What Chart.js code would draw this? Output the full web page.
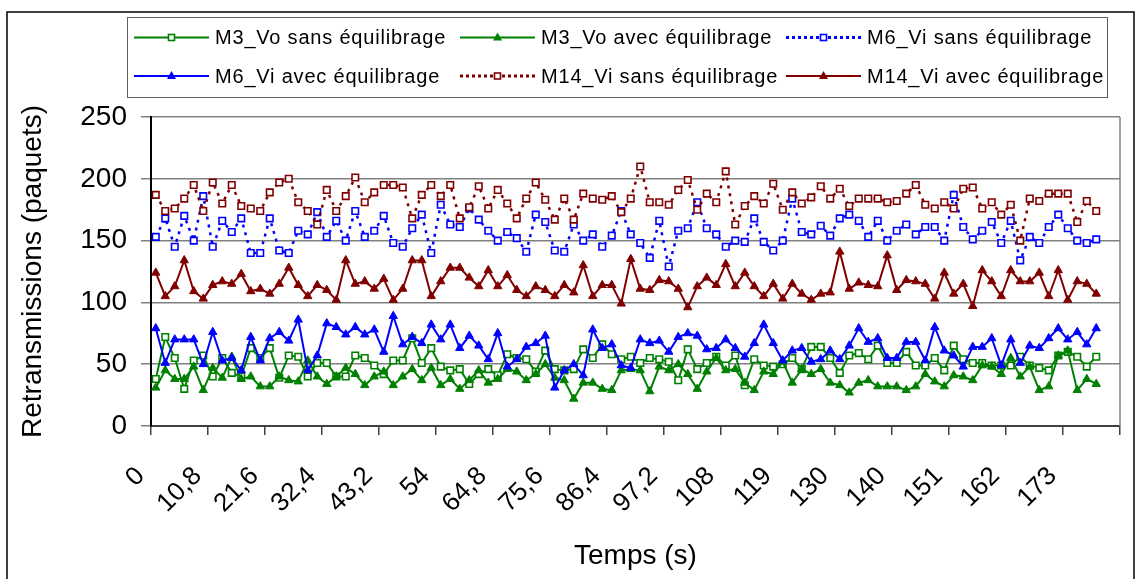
<!DOCTYPE html>
<html>
<head>
<meta charset="utf-8">
<script src="https://cdn.jsdelivr.net/npm/chart.js@4/dist/chart.umd.min.js"></script>
<style>
  html, body { margin: 0; padding: 0; background: #fff; }
  canvas { display: block; }
</style>
</head>
<body>
<canvas id="retransChart" width="1136" height="579"></canvas>
<script>
// time axis (s), one category every 1.8 s
const times = [0, 1.8, 3.6, 5.4, 7.2, 9, 10.8, 12.6, 14.4, 16.2,
  18, 19.8, 21.6, 23.4, 25.2, 27, 28.8, 30.6, 32.4, 34.2,
  36, 37.8, 39.6, 41.4, 43.2, 45, 46.8, 48.6, 50.4, 52.2,
  54, 55.8, 57.6, 59.4, 61.2, 63, 64.8, 66.6, 68.4, 70.2,
  72, 73.8, 75.6, 77.4, 79.2, 81, 82.8, 84.6, 86.4, 88.2,
  90, 91.8, 93.6, 95.4, 97.2, 99, 100.8, 102.6, 104.4, 106.2,
  108, 109.8, 111.6, 113.4, 115.2, 117, 118.8, 120.6, 122.4, 124.2,
  126, 127.8, 129.6, 131.4, 133.2, 135, 136.8, 138.6, 140.4, 142.2,
  144, 145.8, 147.6, 149.4, 151.2, 153, 154.8, 156.6, 158.4, 160.2,
  162, 163.8, 165.6, 167.4, 169.2, 171, 172.8, 174.6, 176.4, 178.2,
  180, 181.8];

// labels shown every 6 categories
const tickLabels = ["0", "10,8", "21,6", "32,4", "43,2", "54", "64,8", "75,6", "86,4",
  "97,2", "108", "119", "130", "140", "151", "162", "173"];

const m3SansEq = [38, 72, 55, 30, 53, 57, 40, 55, 43, 40, 63, 55, 63, 39, 57, 56, 40, 51, 51, 40,
  40, 57, 55, 49, 42, 53, 53, 71, 51, 63, 48, 45,
  46, 34, 42, 46, 41, 58, 55, 54, 44, 61, 46, 45, 46, 62, 55, 66, 58, 54, 56, 51, 55,
  54, 52, 37, 62, 46, 51, 56, 49, 57, 33, 54, 49, 48, 50, 55, 46, 64, 64, 55, 43, 57, 59,
  54, 65, 51, 51, 60, 49, 49, 55, 45, 65, 54, 51, 51, 49, 49, 49, 56, 49, 47, 45, 57, 60, 56, 48, 56];

const m3AvecEq = [31, 45, 38, 38, 48, 29, 47, 39, 56, 38, 40, 32, 32, 40, 37, 36, 53, 40, 34, 40,
  47, 42, 33, 40, 44, 33, 40, 46, 37, 47, 33, 38,
  30, 37, 45, 35, 38, 46, 44, 37, 42, 50, 39, 37, 22, 35, 35, 30, 29, 45, 46, 45, 28,
  48, 45, 50, 42, 30, 44, 55, 45, 46, 35, 29, 44, 42, 52, 35, 46, 42, 46, 35, 33, 27, 35,
  37, 32, 32, 32, 29, 32, 42, 36, 32, 41, 40, 37, 49, 48, 42, 55, 40, 48, 29, 32, 57, 61, 29, 38, 34];

const m6SansEq = [153, 168, 145, 170, 150, 186, 145, 166, 157, 168, 140, 140, 168, 142, 140, 158, 155, 173, 153, 166,
  150, 174, 153, 158, 170, 148, 145, 160, 171, 140, 179, 163,
  161, 176, 167, 158, 150, 157, 152, 141, 171, 165, 142, 141, 163, 150, 155, 145, 154, 174, 155, 148, 136,
  166, 129, 158, 160, 181, 160, 155, 145, 150, 149, 168, 149, 142, 150, 184, 157, 155, 162, 154, 168, 171, 166,
  153, 166, 150, 158, 163, 155, 161, 161, 150, 187, 161, 151, 158, 165, 148, 166, 134, 153, 148, 161, 171, 160, 150, 148, 151];

const m6AvecEq = [79, 51, 70, 70, 70, 50, 76, 53, 55, 45, 72, 53, 71, 76, 69, 86, 45, 57, 83, 80,
  74, 80, 74, 78, 60, 89, 66, 72, 67, 82, 70, 82,
  63, 73, 65, 54, 75, 48, 54, 64, 67, 73, 31, 45, 50, 41, 78, 63, 66, 49, 47, 70, 67,
  69, 60, 72, 75, 73, 62, 63, 70, 63, 56, 67, 82, 67, 53, 61, 63, 52, 54, 61, 54, 65, 79,
  68, 71, 55, 55, 68, 68, 53, 80, 61, 57, 48, 64, 64, 71, 49, 70, 51, 65, 63, 71, 79, 70, 76, 66, 79];

const m14SansEq = [187, 174, 176, 184, 195, 174, 197, 180, 195, 178, 176, 174, 189, 197, 200, 181, 174, 163, 191, 174,
  186, 201, 181, 189, 195, 195, 193, 168, 187, 195, 186, 195,
  168, 177, 194, 176, 191, 180, 168, 184, 197, 183, 167, 184, 167, 188, 184, 183, 186, 173, 184, 210, 181,
  181, 179, 191, 199, 175, 188, 181, 206, 163, 178, 186, 180, 196, 175, 189, 180, 185, 194, 184, 192, 178, 184,
  184, 184, 181, 182, 188, 195, 179, 176, 181, 176, 192, 193, 176, 181, 171, 179, 150, 184, 182, 188, 188, 188, 165, 182, 174];

const m14AvecEq = [124, 105, 113, 134, 109, 103, 114, 117, 115, 123, 109, 111, 107, 115, 128, 114, 105, 114, 110, 102,
  134, 115, 117, 111, 119, 102, 111, 134, 134, 105, 117, 128,
  128, 120, 113, 126, 113, 122, 110, 105, 113, 110, 105, 114, 108, 130, 105, 114, 114, 99, 135, 111, 110,
  118, 117, 111, 96, 113, 120, 114, 131, 113, 124, 113, 105, 115, 103, 115, 107, 102, 107, 108, 141, 111, 116,
  114, 113, 138, 110, 118, 117, 115, 103, 124, 107, 115, 97, 126, 117, 105, 126, 117, 117, 124, 105, 126, 102, 117, 115, 107];

const GREEN = "#008000", BLUE = "#0000ff", DARKRED = "#800000";
const FONT = "'Liberation Sans', Arial, sans-serif";

function serie(label, data, color, marker, dotted, i) {
  const square = marker === "rect";
  return {
    label: label,
    data: data,
    borderColor: color,
    borderWidth: dotted ? 2.5 : 2,
    borderDash: dotted ? [3, 5] : [],
    pointStyle: marker,
    pointRadius: square ? 4.6 : 4.8,
    pointBorderWidth: square ? 1.6 : 1,
    pointBorderColor: color,
    pointBackgroundColor: square ? "#ffffff" : color,
    fill: false,
    tension: 0,
    order: 5 - i
  };
}

// frame around the whole chart + plot area right edge
const frame = {
  id: "frame",
  beforeDraw(chart) {
    const c = chart.ctx;
    c.save();
    c.fillStyle = "#fff";
    c.fillRect(0, 0, chart.width, chart.height);
    c.strokeStyle = "#000";
    c.lineWidth = 1.5;
    c.strokeRect(7, 12, 1127, 600);
    c.restore();
  },
  afterDraw(chart) {
    const a = chart.chartArea, c = chart.ctx;
    c.save();
    c.strokeStyle = "#808080";
    c.lineWidth = 1.5;
    c.beginPath();
    c.moveTo(a.right, a.top);
    c.lineTo(a.right, a.bottom);
    c.stroke();
    c.restore();
  }
};

// boxed legend, 3 entries per row
const legendBox = {
  id: "legendBox",
  afterDraw(chart) {
    const c = chart.ctx;
    c.save();
    c.fillStyle = "#fff";
    c.fillRect(127, 17, 980, 81);
    c.strokeStyle = "#606060";
    c.lineWidth = 1;
    c.strokeRect(127.5, 17.5, 980, 80);
    chart.data.datasets.forEach((ds, i) => {
      const x = [134, 460, 786][i % 3];
      const y = [37.5, 76][Math.floor(i / 3)];
      c.strokeStyle = ds.borderColor;
      c.lineWidth = ds.borderDash.length ? 3 : 2;
      c.setLineDash(ds.borderDash.length ? [3, 3] : []);
      c.beginPath();
      c.moveTo(x, y);
      c.lineTo(x + 75, y);
      c.stroke();
      c.setLineDash([]);
      const mx = x + 37.5;
      if (ds.pointStyle === "rect") {
        c.fillStyle = "#fff";
        c.lineWidth = 1.6;
        c.fillRect(mx - 3, y - 3, 6, 6);
        c.strokeRect(mx - 3, y - 3, 6, 6);
      } else {
        c.fillStyle = ds.borderColor;
        c.beginPath();
        c.moveTo(mx, y - 5);
        c.lineTo(mx + 4.5, y + 3);
        c.lineTo(mx - 4.5, y + 3);
        c.closePath();
        c.fill();
      }
      c.fillStyle = "#000";
      c.font = "20px " + FONT;
      if ("letterSpacing" in c) c.letterSpacing = "0.8px";
      c.textBaseline = "middle";
      c.textAlign = "left";
      c.fillText(ds.label, x + 81, y + 1);
      if ("letterSpacing" in c) c.letterSpacing = "0px";
    });
    c.restore();
  }
};

new Chart(document.getElementById("retransChart").getContext("2d"), {
  type: "line",
  data: {
    labels: times,
    datasets: [
      serie("M3_Vo sans équilibrage", m3SansEq, GREEN, "rect", false, 0),
      serie("M3_Vo avec équilibrage", m3AvecEq, GREEN, "triangle", false, 1),
      serie("M6_Vi sans équilibrage", m6SansEq, BLUE, "rect", true, 2),
      serie("M6_Vi avec équilibrage", m6AvecEq, BLUE, "triangle", false, 3),
      serie("M14_Vi sans équilibrage", m14SansEq, DARKRED, "rect", true, 4),
      serie("M14_Vi avec équilibrage", m14AvecEq, DARKRED, "triangle", false, 5)
    ]
  },
  options: {
    responsive: false,
    animation: false,
    devicePixelRatio: 1,
    layout: { padding: { left: 0, top: 117, right: 16, bottom: 0 } },
    plugins: {
      legend: { display: false },
      tooltip: { enabled: false }
    },
    scales: {
      x: {
        type: "category",
        offset: true,
        border: { color: "#404040", width: 2 },
        grid: {
          offset: true,
          drawOnChartArea: false,
          drawTicks: true,
          tickLength: 9,
          color: "#404040",
          lineWidth: c => (c.index === undefined || c.index % 6 === 0) ? 1.5 : 0
        },
        ticks: {
          autoSkip: false,
          minRotation: 45,
          maxRotation: 45,
          padding: 26,
          labelOffset: -15,
          color: "#000",
          font: { size: 26, family: FONT },
          callback: (v, i) => (i % 6 === 0 ? tickLabels[i / 6] : "")
        },
        title: {
          display: true,
          text: "Temps (s)",
          color: "#000",
          font: { size: 28, family: FONT },
          padding: { top: 0, bottom: 6 }
        },
        afterFit: s => {
          s.height = 153;
          s.paddingLeft = 0;
          s.paddingRight = 0;
        }
      },
      y: {
        min: 0,
        max: 250,
        border: { color: "#000", width: 2 },
        grid: { color: "#808080", lineWidth: 1.5, tickLength: 10 },
        ticks: {
          stepSize: 50,
          padding: 14,
          color: "#000",
          font: { size: 28, family: FONT }
        },
        title: {
          display: true,
          text: "Retransmissions (paquets)",
          color: "#000",
          font: { size: 28, family: FONT },
          padding: { top: 16, bottom: 0 }
        },
        afterFit: s => { s.width = 151; }
      }
    }
  },
  plugins: [frame, legendBox]
});
</script>
</body>
</html>
